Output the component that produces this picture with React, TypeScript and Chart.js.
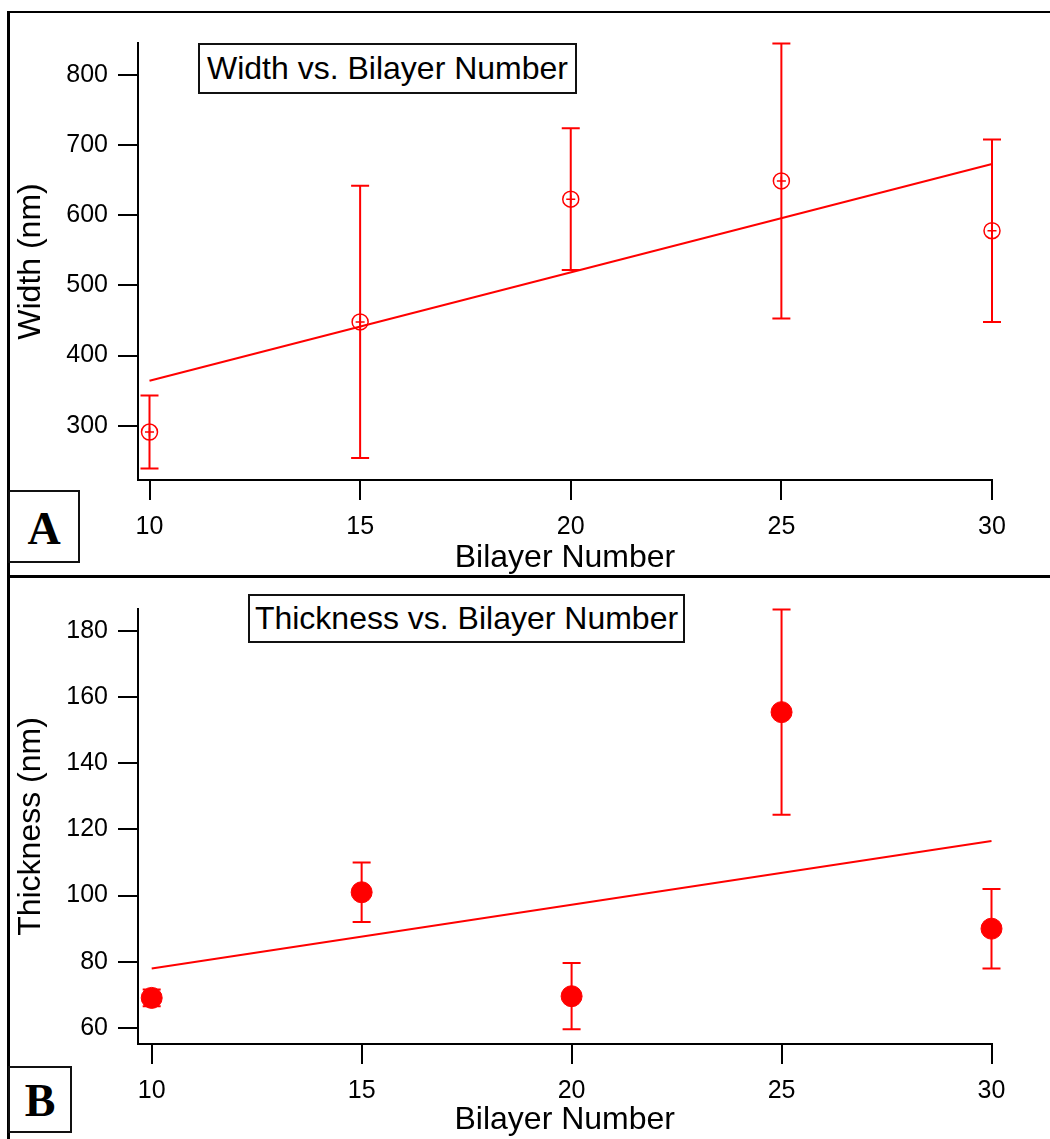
import React, { useEffect, useRef } from 'react';
import { Chart, registerables } from 'chart.js';

Chart.register(...registerables);

// ---------------- data ----------------
const bilayers = [10, 15, 20, 25, 30];
const widthValues = [291, 448, 623, 649, 578];
const widthErrors = [52, 194, 101, 196, 130];
const widthFitX = [10, 30];
const widthFitY = [364, 673];

const thicknessValues = [69.1, 101, 69.6, 155.4, 90];
const thicknessErrors = [2.5, 9, 10, 31, 12];
const thicknessFitX = [10, 30];
const thicknessFitY = [78, 116.5];

const xTicks = [10, 15, 20, 25, 30];
const widthTicks = [300, 400, 500, 600, 700, 800];
const thicknessTicks = [60, 80, 100, 120, 140, 160, 180];

const xTitle = 'Bilayer Number';
const widthYTitle = 'Width (nm)';
const thicknessYTitle = 'Thickness (nm)';
const widthTitle = 'Width vs. Bilayer Number';
const thicknessTitle = 'Thickness vs. Bilayer Number';

const RED = '#ff0000';
const SANS = '"Liberation Sans", Arial, Helvetica, sans-serif';

const errorBarPlugin = {
  id: 'errorBars',
  beforeDatasetsDraw(chart: any) {
    const { ctx } = chart;
    const xs = chart.scales.x;
    const ys = chart.scales.y;
    chart.data.datasets.forEach((ds: any) => {
      const errs: number[] | undefined = ds.errorBars;
      if (!errs) return;
      ctx.save();
      ctx.strokeStyle = RED;
      ctx.lineWidth = 2;
      ds.data.forEach((p: any, j: number) => {
        const px = xs.getPixelForValue(p.x);
        const top = ys.getPixelForValue(p.y + errs[j]);
        const bot = ys.getPixelForValue(p.y - errs[j]);
        ctx.beginPath();
        ctx.moveTo(px, top);
        ctx.lineTo(px, bot);
        ctx.moveTo(px - 9, top);
        ctx.lineTo(px + 9, top);
        ctx.moveTo(px - 9, bot);
        ctx.lineTo(px + 9, bot);
        ctx.stroke();
      });
      ctx.restore();
    });
  },
};

type PanelCfg = {
  height: number;
  padTop: number;
  padRight: number;
  xMin: number;
  xMax: number;
  yMin: number;
  yMax: number;
  yTicks: number[];
  xAxisHeight: number;
  yTitle: string;
  datasets: any[];
};

function makeOptions(cfg: PanelCfg) {
  const tickFont = { family: SANS, size: 25 };
  const titleFont = { family: SANS, size: 32, lineHeight: 1.2 };
  const grid = {
    display: true,
    drawOnChartArea: false,
    drawTicks: true,
    tickLength: 20,
    color: '#000',
    lineWidth: 2,
  };
  const border = { display: true, color: '#000', width: 2 };
  return {
    animation: false,
    responsive: false,
    maintainAspectRatio: false,
    layout: { padding: { left: 10, top: cfg.padTop, right: cfg.padRight, bottom: 0 } },
    plugins: { legend: { display: false }, tooltip: { enabled: false } },
    scales: {
      x: {
        type: 'linear',
        min: cfg.xMin,
        max: cfg.xMax,
        afterBuildTicks: (s: any) => {
          s.ticks = xTicks.map((v) => ({ value: v }));
        },
        afterFit: (s: any) => {
          s.height = cfg.xAxisHeight;
        },
        grid,
        border,
        ticks: { font: tickFont, color: '#000', padding: 12, maxRotation: 0 },
        title: { display: true, text: xTitle, font: titleFont, color: '#000', padding: 0 },
      },
      y: {
        type: 'linear',
        min: cfg.yMin,
        max: cfg.yMax,
        afterBuildTicks: (s: any) => {
          s.ticks = cfg.yTicks.map((v) => ({ value: v }));
        },
        afterFit: (s: any) => {
          s.width = 128;
        },
        grid,
        border,
        ticks: { font: tickFont, color: '#000', padding: 10 },
        title: { display: true, text: cfg.yTitle, font: titleFont, color: '#000', padding: { top: 2, bottom: 0 } },
      },
    },
  };
}

function Panel({ cfg }: { cfg: PanelCfg }) {
  const ref = useRef<HTMLCanvasElement | null>(null);
  useEffect(() => {
    if (!ref.current) return;
    const chart = new Chart(ref.current, {
      type: 'scatter',
      data: { datasets: cfg.datasets },
      options: makeOptions(cfg) as any,
      plugins: [errorBarPlugin],
    });
    return () => chart.destroy();
  }, []);
  return <canvas ref={ref} width={1050} height={cfg.height} style={{ display: 'block', width: 1050, height: cfg.height }} />;
}

const toPoints = (xs: number[], ys: number[]) => xs.map((x, i) => ({ x, y: ys[i] }));

const panelA: PanelCfg = {
  height: 577,
  padTop: 43,
  padRight: 1050 - 992,
  xMin: 9.727,
  xMax: 30,
  yMin: 222.6,
  yMax: 845.6,
  yTicks: widthTicks,
  xAxisHeight: 97,
  yTitle: widthYTitle,
  datasets: [
    {
      label: 'fit',
      data: toPoints(widthFitX, widthFitY),
      showLine: true,
      borderColor: RED,
      borderWidth: 2,
      pointRadius: 0,
      clip: false,
    },
    {
      label: 'Width',
      data: toPoints(bilayers, widthValues),
      errorBars: widthErrors,
      showLine: false,
      pointStyle: 'circle',
      pointRadius: 8,
      pointBorderWidth: 1.5,
      pointBorderColor: RED,
      pointBackgroundColor: 'rgba(255,255,255,0)',
      clip: false,
    },
    {
      label: 'Width cross',
      data: toPoints(bilayers, widthValues),
      showLine: false,
      pointStyle: 'cross',
      pointRadius: 4.5,
      pointBorderWidth: 1.5,
      pointBorderColor: RED,
      clip: false,
    },
  ],
};

const panelB: PanelCfg = {
  height: 562,
  padTop: 32,
  padRight: 1050 - 991.5,
  xMin: 9.674,
  xMax: 30,
  yMin: 55.17,
  yMax: 186.55,
  yTicks: thicknessTicks,
  xAxisHeight: 95,
  yTitle: thicknessYTitle,
  datasets: [
    {
      label: 'fit',
      data: toPoints(thicknessFitX, thicknessFitY),
      showLine: true,
      borderColor: RED,
      borderWidth: 2,
      pointRadius: 0,
      clip: false,
    },
    {
      label: 'Thickness',
      data: toPoints(bilayers, thicknessValues),
      errorBars: thicknessErrors,
      showLine: false,
      pointStyle: 'circle',
      pointRadius: 10.5,
      pointBorderWidth: 1,
      pointBorderColor: RED,
      pointBackgroundColor: RED,
      clip: false,
    },
  ],
};

const boxStyle: React.CSSProperties = {
  position: 'absolute',
  border: '2px solid #111',
  background: '#fff',
  boxSizing: 'border-box',
  display: 'flex',
  alignItems: 'center',
  justifyContent: 'center',
  color: '#000',
  whiteSpace: 'nowrap',
};

export default function App() {
  return (
    <div style={{ position: 'absolute', left: 0, top: 0, width: 1050, height: 1139, overflow: 'hidden', background: '#fff' }}>
      <div style={{ position: 'absolute', left: 0, top: 0 }}>
        <Panel cfg={panelA} />
      </div>
      <div style={{ position: 'absolute', left: 0, top: 577 }}>
        <Panel cfg={panelB} />
      </div>
      {/* frame */}
      <div style={{ position: 'absolute', left: 7, top: 11, width: 1043, height: 2, background: '#000' }} />
      <div style={{ position: 'absolute', left: 7, top: 11, width: 3, height: 1128, background: '#000' }} />
      <div style={{ position: 'absolute', left: 7, top: 575, width: 1043, height: 3, background: '#000' }} />
      {/* chart titles */}
      <div style={{ ...boxStyle, left: 198, top: 43, width: 379, height: 51, fontFamily: SANS, fontSize: 32 }}>{widthTitle}</div>
      <div style={{ ...boxStyle, left: 248, top: 594, width: 437, height: 49, fontFamily: SANS, fontSize: 32 }}>{thicknessTitle}</div>
      {/* panel letters */}
      <div style={{ ...boxStyle, left: 8, top: 490, width: 72, height: 73, paddingTop: 4, fontFamily: '"Liberation Serif", "Times New Roman", serif', fontWeight: 'bold', fontSize: 46 }}>A</div>
      <div style={{ ...boxStyle, left: 8, top: 1066, width: 64, height: 67, paddingTop: 2, fontFamily: '"Liberation Serif", "Times New Roman", serif', fontWeight: 'bold', fontSize: 46 }}>B</div>
    </div>
  );
}
